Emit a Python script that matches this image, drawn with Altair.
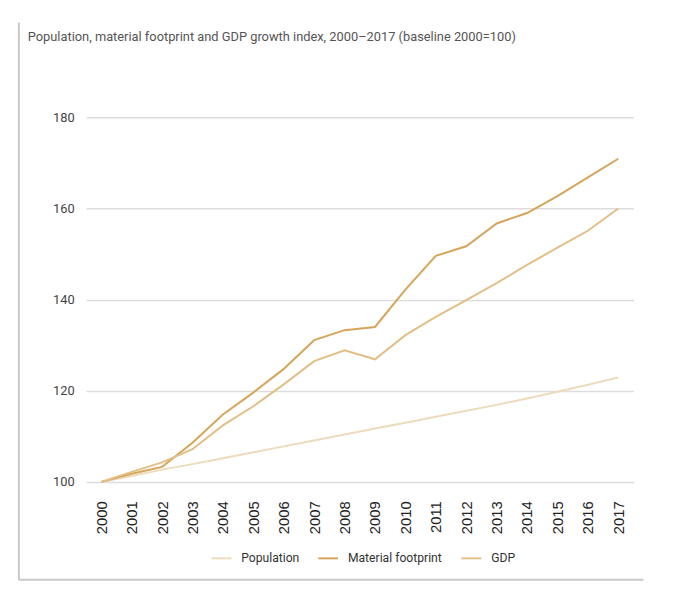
import altair as alt
import pandas as pd

title_text = "Population, material footprint and GDP growth index, 2000\u20132017 (baseline 2000=100)"

years = ["2000", "2001", "2002", "2003", "2004", "2005", "2006", "2007", "2008",
         "2009", "2010", "2011", "2012", "2013", "2014", "2015", "2016", "2017"]

population = [100.0, 101.3, 102.7, 103.9, 105.2, 106.5, 107.8, 109.1, 110.4,
              111.7, 113.0, 114.3, 115.6, 116.9, 118.3, 119.8, 121.3, 122.9]
material_footprint = [100.0, 101.8, 103.3, 108.6, 114.8, 119.6, 124.8, 131.1, 133.3,
                      134.0, 142.2, 149.6, 151.7, 156.7, 159.0, 162.7, 166.8, 170.9]
gdp = [100.0, 102.2, 104.3, 107.2, 112.4, 116.6, 121.4, 126.5, 128.9,
       126.9, 132.2, 136.2, 139.9, 143.6, 147.6, 151.4, 155.1, 160.0]

series_names = ["Population", "Material footprint", "GDP"]
series_colors = ["#eddbbb", "#d6a55a", "#e3bf87"]
y_ticks = [100, 120, 140, 160, 180]

rows = []
for name, vals in zip(series_names, [population, material_footprint, gdp]):
    for yr, v in zip(years, vals):
        rows.append({"year": yr, "series": name, "value": v})
df = pd.DataFrame(rows)

narrow = "Roboto"

lines = alt.Chart(df).mark_line(strokeWidth=2).encode(
    x=alt.X("year:O", sort=years,
            scale=alt.Scale(type="point", padding=0.5),
            axis=alt.Axis(title=None, labelAngle=-90, ticks=False, tickSize=0, domain=False,
                          grid=False, labelPadding=19, labelFont="Liberation Sans",
                          labelFontSize=15, labelColor="#222222")),
    y=alt.Y("value:Q", scale=alt.Scale(domain=[100, 180], nice=False, zero=False),
            axis=alt.Axis(title=None, values=y_ticks, ticks=False, tickSize=0, domain=False,
                          grid=True, gridColor="#dddddd", gridWidth=1.5,
                          labelPadding=12, labelFont=narrow, labelFontSize=13,
                          labelColor="#444444")),
    color=alt.Color("series:N",
                    scale=alt.Scale(domain=series_names, range=series_colors),
                    legend=alt.Legend(title=None, orient="none", legendX=126, legendY=435,
                                      direction="horizontal", symbolType="stroke",
                                      symbolSize=400, symbolStrokeWidth=2,
                                      labelFont=narrow, labelFontSize=12.3,
                                      labelColor="#333333", labelOffset=9,
                                      columnPadding=15, padding=0)),
)

one = pd.DataFrame({"t": [title_text]})

title = alt.Chart(one).mark_text(align="left", baseline="alphabetic", font=narrow,
                                 fontSize=13, color="#555555").encode(
    x=alt.value(-59), y=alt.value(-77), text="t:N")

border_v = alt.Chart(one).mark_rule(color="#c9c9c9", strokeWidth=2).encode(
    x=alt.value(-68), y=alt.value(-96), y2=alt.value(468))
border_h = alt.Chart(one).mark_rule(color="#c9c9c9", strokeWidth=2).encode(
    x=alt.value(-68), x2=alt.value(564), y=alt.value(468))

chart = alt.layer(border_v, border_h, title, lines).properties(
    width=554, height=369,
    autosize=alt.AutoSizeParams(type="none"),
    padding={"left": 79, "top": 107, "right": 41, "bottom": 125},
    background="white",
).configure_view(stroke=None)

chart.save("out.html", embed_options={"renderer": "svg", "actions": False})
